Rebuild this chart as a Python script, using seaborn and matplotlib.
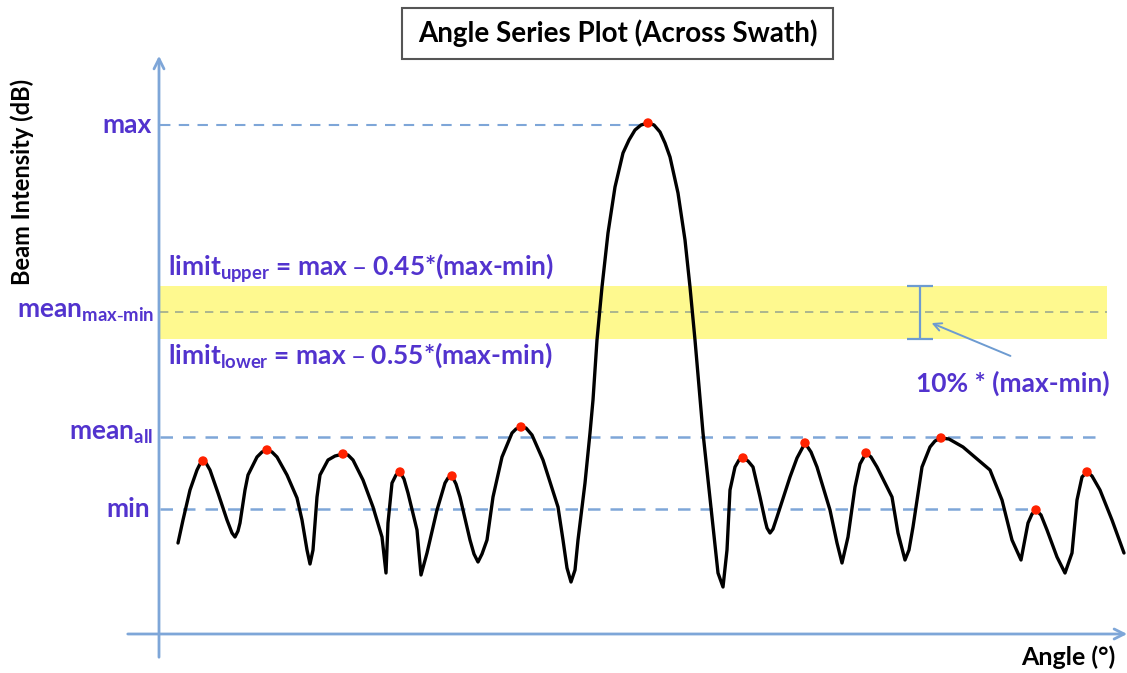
import numpy as np
import pandas as pd
import seaborn as sns
import matplotlib.pyplot as plt

# angle series (angle ~ horizontal units, intensity ~ vertical units)
angle = [19, 24, 31, 38, 41, 44, 47, 51, 59, 68, 73, 76, 79, 81, 86, 89, 98, 103, 108, 113,
         118, 128, 138, 143, 148, 151, 154, 158, 161, 169, 176, 184, 189, 194, 204, 214, 223, 227,
         229, 233, 237, 241, 245, 249, 258, 262, 268, 278, 286, 289, 293, 297, 301, 311, 315, 319,
         323, 328, 334, 343, 353, 357, 362, 367, 373, 384, 399, 404, 408, 412, 416, 419, 426, 431,
         434, 438, 443, 449, 456, 464, 470, 476, 482, 489, 495, 501, 506, 511, 519, 526, 531, 536,
         544, 553, 559, 564, 568, 571, 576, 580, 584, 589, 594, 601, 606, 608, 611, 614, 618, 631,
         638, 646, 652, 658, 671, 678, 683, 689, 696, 701, 707, 712, 718, 733, 739, 746, 750, 754,
         763, 771, 776, 782, 790, 804, 831, 843, 853, 862, 869, 873, 877, 882, 888, 898, 906, 913,
         918, 923, 928, 933, 941, 953, 965]
intensity = [91, 114, 144, 164, 170, 173, 171, 164, 141, 114, 101, 97, 103, 111, 144, 159, 177, 182, 184, 182,
             177, 159, 136, 114, 84, 70, 84, 137, 159, 174, 178, 180, 179, 174, 154, 127, 97, 61,
             111, 151, 159, 162, 155, 141, 104, 59, 81, 124, 151, 156, 158, 150, 137, 94, 80, 72,
             80, 94, 137, 177, 201, 205, 207, 206, 199, 174, 127, 94, 66, 52, 64, 94, 151, 201,
             234, 294, 347, 401, 447, 481, 494, 504, 509, 511, 509, 502, 491, 477, 441, 394, 347, 294,
             201, 117, 61, 47, 84, 144, 167, 174, 176, 173, 167, 137, 114, 106, 101, 105, 117, 157,
             176, 191, 182, 167, 124, 91, 71, 97, 147, 170, 181, 177, 167, 137, 101, 74, 84, 107,
             167, 187, 193, 196, 195, 187, 164, 134, 94, 74, 111, 120, 124, 119, 104, 77, 61, 81,
             134, 157, 162, 158, 144, 114, 81]

# reference levels
level_max = 509
level_upper = 348
level_mean_mm = 322
level_lower = 295
level_mean_all = 197
level_min = 125

purple = '#5233CE'
blue = '#7EA6D8'

df = pd.DataFrame({'angle': angle, 'intensity': intensity})
y = df.intensity.values
is_peak = np.r_[False, (y[1:-1] > y[:-2]) & (y[1:-1] > y[2:]), False]
peaks = df[is_peak]

sns.set_theme(style='white')
plt.rcParams['font.family'] = ['Lato', 'DejaVu Sans']

fig = plt.figure(figsize=(11.27, 6.73), dpi=100)
ax = fig.add_axes([0, 0, 1, 1])
ax.set_xlim(-159, 968)
ax.set_ylim(-39, 634)

# band of +-5% around the mid level
ax.fill_between([1, 948], level_lower, level_upper, color='#FEF98F', lw=0, zorder=1)
ax.hlines(level_mean_mm, 1, 948, colors='#9DAA8E', linestyles=(0, (5, 4)), lw=1.2, zorder=2)
ax.hlines(level_max, 1, 486, colors=blue, linestyles=(0, (5, 4)), lw=1.5, zorder=2)
ax.hlines(level_mean_all, 1, 946, colors=blue, linestyles=(0, (5, 4)), lw=1.8, zorder=2)
ax.hlines(level_min, 1, 874, colors=blue, linestyles=(0, (5, 4)), lw=1.8, zorder=2)

sns.lineplot(data=df, x='angle', y='intensity', sort=False, estimator=None,
             color='black', lw=2.4, ax=ax, zorder=3)
sns.scatterplot(data=peaks, x='angle', y='intensity', color='#FF2200', s=46,
                edgecolor='none', ax=ax, zorder=4)

# axes drawn as arrows
ax.annotate('', xy=(0, 581), xytext=(0, -26), annotation_clip=False,
            arrowprops=dict(arrowstyle='->', color=blue, lw=2, mutation_scale=18))
ax.annotate('', xy=(971, 0), xytext=(-34, 0), annotation_clip=False,
            arrowprops=dict(arrowstyle='->', color=blue, lw=2, mutation_scale=18))

# 10% bracket and pointer
ax.errorbar(761, (level_lower + level_upper) / 2, yerr=(level_upper - level_lower) / 2,
            fmt='none', ecolor='#6D9BD1', elinewidth=1.6, capsize=9.7, capthick=1.6, zorder=5)
ax.annotate('', xy=(770, 312), xytext=(854, 277),
            arrowprops=dict(arrowstyle='->', color='#6D9BD1', lw=1.4, mutation_scale=14))
ax.text(854, 251, '10% * (max-min)', color=purple, fontsize=19, fontweight='bold',
        ha='center', va='center')

# level labels
lab = dict(color=purple, fontsize=19, fontweight='bold', va='center')
ax.text(-7, level_max, 'max', ha='right', **lab)
ax.text(-5, level_mean_mm, r'mean$\mathregular{_{max\text{-}min}}$', ha='right', **lab)
ax.text(-6, level_mean_all + 3, r'mean$\mathregular{_{all}}$', ha='right', **lab)
ax.text(-9, level_min, 'min', ha='right', **lab)
ax.text(9, 366, r'limit$\mathregular{_{upper}}$ = max – 0.45*(max-min)', ha='left', **lab)
ax.text(9, 279, r'limit$\mathregular{_{lower}}$ = max – 0.55*(max-min)', ha='left', **lab)

# axis titles
ax.text(-137, 452, 'Beam Intensity (dB)', rotation=90, color='black', fontsize=17,
        fontweight='bold', ha='center', va='center')
ax.text(956, -23, 'Angle (°)', color='black', fontsize=18, fontweight='bold',
        ha='right', va='center')

# title in a box
ax.add_patch(plt.Rectangle((243, 575), 431, 51, fill=False, ec='#555555', lw=1.5))
ax.text(458.5, 600.5, 'Angle Series Plot (Across Swath)', color='black', fontsize=20,
        fontweight='bold', ha='center', va='center')

ax.set_axis_off()
fig.savefig('out.png', dpi=100)
